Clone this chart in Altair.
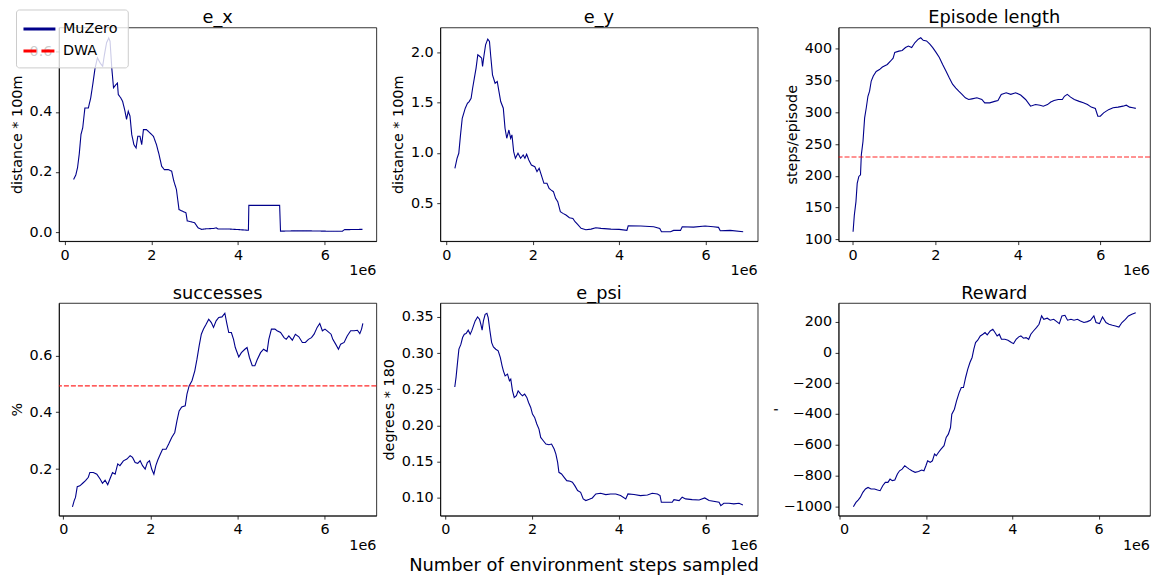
import altair as alt
import pandas as pd

# ---------------- data (x in units of 1e6 environment steps) ----------------
ex_x = [0.21,0.26,0.30,0.34,0.38,0.42,0.47,0.55,0.605,0.65,0.705,0.76,0.82,0.88,0.92,0.97,1.02,1.05,1.09,1.13,1.18,1.22,1.24,1.295,1.34,1.395,1.43,1.47,1.51,1.55,1.60,1.65,1.69,1.74,1.78,1.82,1.89,1.97,2.05,2.12,2.18,2.24,2.30,2.39,2.47,2.52,2.58,2.64,2.71,2.80,2.83,2.93,3.00,3.08,3.16,3.27,3.43,3.50,3.54,3.81,4.04,4.24,4.25,4.57,4.96,4.98,5.26,5.65,6.03,6.41,6.45,6.87]
ex_v = [0.175,0.19,0.214,0.26,0.325,0.347,0.413,0.413,0.447,0.49,0.546,0.58,0.563,0.552,0.59,0.63,0.646,0.635,0.546,0.48,0.49,0.496,0.458,0.447,0.435,0.402,0.375,0.402,0.386,0.325,0.291,0.28,0.319,0.319,0.291,0.341,0.341,0.33,0.319,0.291,0.258,0.219,0.208,0.208,0.203,0.17,0.142,0.075,0.07,0.064,0.037,0.034,0.031,0.014,0.009,0.011,0.012,0.014,0.01,0.01,0.008,0.006,0.089,0.089,0.089,0.003,0.004,0.004,0.003,0.003,0.008,0.009]

ey_x = [0.20,0.25,0.29,0.33,0.37,0.44,0.49,0.53,0.575,0.61,0.65,0.69,0.73,0.78,0.82,0.84,0.87,0.91,0.96,1.00,1.03,1.07,1.13,1.18,1.22,1.26,1.32,1.36,1.40,1.45,1.49,1.52,1.56,1.60,1.66,1.72,1.78,1.82,1.86,1.91,1.97,2.05,2.10,2.15,2.20,2.26,2.33,2.38,2.43,2.48,2.53,2.58,2.64,2.70,2.77,2.85,2.93,2.98,3.04,3.12,3.23,3.35,3.46,3.58,3.81,4.00,4.18,4.21,4.50,4.80,4.94,4.98,5.19,5.26,5.42,5.46,5.72,5.99,6.18,6.30,6.34,6.57,6.87]
ey_v = [0.848,0.947,0.997,1.18,1.344,1.444,1.493,1.51,1.543,1.642,1.742,1.841,1.974,1.957,1.94,1.858,1.957,2.073,2.13,2.106,1.957,1.775,1.692,1.709,1.609,1.51,1.444,1.245,1.146,1.228,1.146,1.179,1.013,0.947,0.997,0.947,0.98,0.947,0.987,0.93,0.881,0.864,0.815,0.848,0.781,0.699,0.699,0.649,0.632,0.616,0.55,0.517,0.417,0.401,0.384,0.358,0.351,0.318,0.291,0.252,0.238,0.245,0.258,0.252,0.245,0.242,0.232,0.278,0.275,0.268,0.252,0.219,0.219,0.232,0.232,0.268,0.265,0.275,0.268,0.262,0.229,0.232,0.219]

len_x = [0.01,0.04,0.08,0.11,0.15,0.19,0.21,0.25,0.29,0.33,0.37,0.41,0.45,0.50,0.57,0.65,0.72,0.84,0.92,0.98,1.02,1.12,1.20,1.28,1.35,1.43,1.51,1.59,1.65,1.71,1.79,1.87,1.94,2.02,2.10,2.18,2.26,2.34,2.42,2.50,2.57,2.65,2.73,2.81,2.89,3.01,3.13,3.20,3.32,3.44,3.52,3.60,3.72,3.83,3.95,4.07,4.19,4.31,4.43,4.54,4.62,4.72,4.80,4.88,4.98,5.08,5.13,5.20,5.28,5.37,5.49,5.59,5.69,5.78,5.88,5.94,6.00,6.08,6.20,6.31,6.43,6.55,6.63,6.71,6.79,6.86]
len_v = [112,138,159.5,188,199,201.6,233,254,291,307,325,333,349,357,364,367,371,375,380.5,385,394,396,397,401.6,404,401.6,409.5,414.7,417,413,412,407,401.6,394,386,375,364.7,354,344,338,333,328,322.6,320,321,322.6,320,314.7,314.7,317,318.4,328,330.5,328,330.5,327,320,309.5,312,311,309.5,312,316,318.4,320,320,325,328,323.7,320,317,314.7,312,308,305.8,293.7,293.7,299,304,307,308,309.5,311,308,307,306]
dwa_len = 229.5

suc_x = [0.21,0.25,0.28,0.32,0.38,0.445,0.51,0.575,0.61,0.69,0.77,0.845,0.90,0.96,1.02,1.07,1.13,1.19,1.25,1.30,1.38,1.46,1.535,1.59,1.65,1.71,1.765,1.82,1.88,1.93,1.98,2.03,2.08,2.125,2.17,2.23,2.28,2.36,2.42,2.49,2.56,2.61,2.66,2.72,2.80,2.84,2.89,2.955,3.02,3.07,3.12,3.17,3.22,3.28,3.34,3.40,3.45,3.51,3.57,3.645,3.71,3.76,3.80,3.86,3.91,3.95,4.03,4.09,4.17,4.22,4.275,4.34,4.40,4.45,4.53,4.60,4.68,4.72,4.78,4.86,4.91,4.99,5.07,5.12,5.18,5.26,5.33,5.41,5.49,5.56,5.63,5.70,5.76,5.83,5.89,5.95,6.01,6.06,6.15,6.19,6.255,6.32,6.37,6.45,6.52,6.60,6.68,6.755,6.81,6.85,6.88]
suc_v = [0.067,0.089,0.10,0.138,0.141,0.15,0.159,0.171,0.188,0.188,0.182,0.165,0.15,0.161,0.145,0.165,0.188,0.182,0.218,0.212,0.229,0.235,0.247,0.241,0.223,0.22,0.229,0.212,0.20,0.223,0.229,0.20,0.182,0.212,0.232,0.253,0.27,0.27,0.288,0.311,0.329,0.37,0.405,0.419,0.423,0.464,0.493,0.511,0.546,0.587,0.634,0.675,0.693,0.71,0.728,0.716,0.699,0.722,0.734,0.736,0.749,0.71,0.681,0.681,0.657,0.628,0.595,0.61,0.622,0.628,0.593,0.564,0.564,0.584,0.61,0.622,0.614,0.657,0.693,0.693,0.687,0.681,0.663,0.657,0.669,0.654,0.675,0.666,0.646,0.646,0.657,0.663,0.675,0.699,0.713,0.687,0.693,0.687,0.675,0.657,0.64,0.622,0.64,0.646,0.669,0.687,0.687,0.689,0.677,0.693,0.713]
dwa_suc = 0.493

psi_x = [0.22,0.25,0.28,0.315,0.36,0.40,0.44,0.48,0.53,0.575,0.61,0.65,0.69,0.745,0.79,0.82,0.85,0.88,0.92,0.96,0.99,1.03,1.07,1.11,1.165,1.22,1.27,1.31,1.34,1.38,1.435,1.48,1.51,1.55,1.59,1.64,1.68,1.74,1.78,1.83,1.88,1.92,1.97,2.01,2.06,2.11,2.16,2.20,2.26,2.32,2.39,2.45,2.51,2.55,2.59,2.62,2.68,2.74,2.80,2.88,2.93,2.985,3.05,3.12,3.18,3.24,3.32,3.39,3.47,3.58,3.70,3.81,3.93,4.04,4.16,4.21,4.35,4.50,4.66,4.77,4.89,4.95,4.98,5.12,5.23,5.27,5.39,5.46,5.54,5.69,5.85,5.98,6.08,6.31,6.35,6.42,6.54,6.65,6.77,6.86]
psi_v = [0.253,0.2667,0.285,0.3055,0.312,0.3215,0.326,0.327,0.3316,0.326,0.3307,0.3376,0.3445,0.35,0.3468,0.3399,0.3316,0.3445,0.3537,0.355,0.349,0.3307,0.3145,0.3086,0.3053,0.303,0.2938,0.2823,0.2754,0.2685,0.2708,0.2616,0.2639,0.2478,0.2386,0.2409,0.2478,0.2432,0.2409,0.2432,0.2386,0.2317,0.2248,0.2156,0.211,0.2018,0.1948,0.1833,0.1787,0.1741,0.1732,0.1741,0.1672,0.1603,0.1488,0.135,0.1327,0.1281,0.1235,0.1226,0.1212,0.1166,0.1097,0.1074,0.0982,0.0959,0.0977,0.0995,0.1051,0.106,0.1042,0.1051,0.1051,0.1028,0.0982,0.1051,0.1042,0.1028,0.1037,0.106,0.1051,0.1028,0.0936,0.0936,0.0936,0.0972,0.0959,0.1005,0.0982,0.0972,0.0968,0.0995,0.0959,0.0936,0.089,0.0922,0.0922,0.0913,0.0922,0.0899]

rew_x = [0.32,0.38,0.43,0.48,0.54,0.60,0.66,0.73,0.81,0.88,0.94,1.00,1.06,1.12,1.17,1.22,1.28,1.34,1.39,1.45,1.51,1.56,1.615,1.675,1.75,1.83,1.90,1.955,2.00,2.04,2.10,2.15,2.20,2.24,2.29,2.35,2.42,2.47,2.52,2.57,2.60,2.66,2.71,2.77,2.82,2.87,2.92,2.97,3.02,3.07,3.11,3.15,3.20,3.26,3.32,3.37,3.42,3.49,3.55,3.60,3.65,3.70,3.75,3.83,3.90,3.98,4.03,4.09,4.15,4.20,4.26,4.32,4.38,4.43,4.49,4.56,4.62,4.68,4.73,4.81,4.88,4.96,5.03,5.09,5.15,5.22,5.28,5.36,5.43,5.51,5.58,5.66,5.74,5.81,5.89,5.94,6.02,6.09,6.17,6.24,6.32,6.39,6.47,6.54,6.62,6.69,6.77,6.86]
rew_v = [-1002,-974,-959,-942,-909,-887,-877,-887,-887,-894,-898,-866,-844,-844,-823,-833,-829,-790,-769,-758,-736,-747,-758,-769,-779,-773,-764,-769,-736,-704,-714,-704,-660,-671,-650,-628,-606,-552,-531,-488,-401,-369,-315,-261,-228,-228,-163,-109,-66,-33,21,64,79,107,118,129,114,139,150,129,107,118,85,85,79,64,57,85,101,107,92,96,85,118,139,161,183,237,215,222,209,215,200,187,237,241,209,215,209,215,204,194,200,209,237,194,187,230,194,183,176,172,165,194,215,237,248,258]

methods = ["MuZero", "DWA"]
method_colors = ["#00008b", "red"]
x_ticks = [0, 2, 4, 6]
x_label = "Number of environment steps sampled"

FONT = "DejaVu Sans"
BLUE = "#00008b"


def label_layer(text, x, y, size, baseline="alphabetic", align="center"):
    return alt.Chart(pd.DataFrame({"t": [text]})).mark_text(
        align=align, baseline=baseline, font=FONT, fontSize=size, color="black"
    ).encode(x=alt.value(x), y=alt.value(y), text="t:N")


def panel(xs, ys, title, ytitle, yvals, yfmt, xdom, ydom, w, h, dwa=None, legend=False,
          xlabel=None, title_x=None):
    df = pd.DataFrame({"x": xs, "y": ys, "method": ["MuZero"] * len(xs)})
    xenc = alt.X("x:Q", scale=alt.Scale(domain=xdom, nice=False, zero=False),
                 axis=alt.Axis(values=x_ticks, format="d", title=None))
    yaxis_kw = dict(values=yvals, format=yfmt, title=ytitle)
    if title_x is not None:
        yaxis_kw["titleX"] = title_x
    yenc = alt.Y("y:Q", scale=alt.Scale(domain=ydom, nice=False, zero=False),
                 axis=alt.Axis(**yaxis_kw))
    base = alt.Chart(df)
    if legend:
        leg = alt.Legend(title=None, orient="none", legendX=-43, legendY=-18,
                         symbolType="M-1.5,0L2.5,0", symbolSize=256, symbolStrokeWidth=3,
                         labelFont=FONT, labelFontSize=14.4, labelColor="black", labelOffset=18,
                         rowPadding=6, padding=10, fillColor="rgba(255,255,255,0.8)",
                         strokeColor="#cccccc", cornerRadius=3)
        line = base.mark_line(strokeWidth=1.1).encode(
            x=xenc, y=yenc,
            color=alt.Color("method:N", scale=alt.Scale(domain=methods, range=method_colors), legend=leg),
            strokeDash=alt.StrokeDash("method:N", scale=alt.Scale(domain=methods, range=[[1, 0], [13, 5]]), legend=leg),
        )
    else:
        line = base.mark_line(color=BLUE, strokeWidth=1.1).encode(x=xenc, y=yenc)
    layers = [line]
    if dwa is not None:
        layers.append(alt.Chart(pd.DataFrame({"y": [dwa]})).mark_rule(
            color="red", strokeDash=[5, 2], strokeWidth=1.1, opacity=0.85).encode(y=yenc))
    # panel title and matplotlib-style offset text
    layers.append(label_layer(title, w / 2, -4, 17.8))
    layers.append(label_layer("1e6", w, h + 30, 14.4, baseline="middle", align="right"))
    if xlabel:
        layers.append(label_layer(xlabel, 144, h + 50, 17.9, baseline="middle"))
    return alt.layer(*layers).properties(width=w, height=h)


def spacer(w, h):
    return alt.Chart(pd.DataFrame({"a": [0]})).mark_point(opacity=0).encode(
        x=alt.X("a:Q", axis=None), y=alt.Y("a:Q", axis=None)
    ).properties(width=w, height=h, view=alt.ViewBackground(strokeOpacity=0))


W = 318
W3 = 312   # last column narrowed slightly so the whole figure fits the page width
H1, H2 = 214, 213
p1 = panel(ex_x, ex_v, "e_x", "distance * 100m", [0.0, 0.2, 0.4, 0.6], ".1f",
           [-0.129, 7.19], [-0.030, 0.681], W, H1, legend=True)
p2 = panel(ey_x, ey_v, "e_y", "distance * 100m", [0.5, 1.0, 1.5, 2.0], ".1f",
           [-0.139, 7.206], [0.126, 2.245], W, H1)
p3 = panel(len_x, len_v, "Episode length", "steps/episode", [100, 150, 200, 250, 300, 350, 400], "d",
           [-0.342, 7.204], [97.4, 433.2], W3, H1, dwa=dwa_len)
p4 = panel(suc_x, suc_v, "successes", "%", [0.2, 0.4, 0.6], ".1f",
           [-0.101, 7.19], [0.036, 0.785], W, H2, dwa=dwa_suc)
p5 = panel(psi_x, psi_v, "e_psi", "degrees * 180", [0.10, 0.15, 0.20, 0.25, 0.30, 0.35], ".2f",
           [-0.115, 7.2], [0.0751, 0.3693], W, H2, xlabel=x_label)
p6 = panel(rew_x, rew_v, "Reward", "'", [-1000, -800, -600, -400, -200, 0, 200], "d",
           [-0.023, 7.19], [-1060, 321], W3, H2, title_x=-52)

cells = [p1, spacer(64, H1), p2, spacer(81, H1), p3,
         p4, spacer(64, H2), p5, spacer(81, H2), p6]

chart = alt.concat(
    *cells, columns=5, spacing={"row": 62, "column": 0}, bounds="flush", align="each"
).resolve_scale(
    color="independent", strokeDash="independent"
).properties(
    padding={"left": 0, "top": 0, "right": 0, "bottom": 0}
).configure_view(
    stroke="black", strokeWidth=0.8
).configure_axis(
    labelFont=FONT, labelFontSize=14.4, labelColor="black", labelOverlap=False,
    titleFont=FONT, titleFontSize=14.4, titleFontWeight="normal", titleColor="black",
    tickColor="black", tickSize=3.5, tickWidth=0.8, labelPadding=3.5,
    domainColor="black", domainWidth=0.8, grid=False, titlePadding=5
)

chart.save("out.html", embed_options={"renderer": "svg", "actions": False})
